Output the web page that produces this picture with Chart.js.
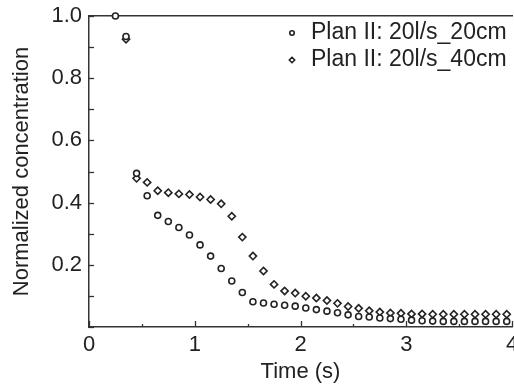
<!DOCTYPE html>
<html><head><meta charset="utf-8">
<script src="https://cdn.jsdelivr.net/npm/chart.js@4/dist/chart.umd.min.js"></script>
<style>html,body{margin:0;padding:0;background:#fff;overflow:hidden}canvas{display:block}</style>
</head><body>
<canvas id="c" width="514" height="388"></canvas>
<script>
const times = [0.25,0.35,0.45,0.55,0.65,0.75,0.85,0.95,
  1.05,1.15,1.25,1.35,1.45,1.55,1.65,1.75,1.85,1.95,
  2.05,2.15,2.25,2.35,2.45,2.55,2.65,2.75,2.85,2.95,
  3.05,3.15,3.25,3.35,3.45,3.55,3.65,3.75,3.85,3.95];
const plan20cm = [1.0,0.934,0.494,0.422,0.359,0.339,0.320,0.296,
  0.264,0.228,0.188,0.148,0.111,0.081,0.077,0.073,0.070,0.067,
  0.061,0.056,0.051,0.046,0.039,0.034,0.032,0.029,0.027,0.025,
  0.022,0.020,0.019,0.018,0.018,0.018,0.018,0.018,0.018,0.018];
const plan40cm = [null,0.925,0.478,0.465,0.438,0.432,0.428,0.426,
  0.418,0.410,0.396,0.356,0.289,0.228,0.180,0.137,0.116,0.109,
  0.099,0.093,0.085,0.076,0.066,0.060,0.052,0.048,0.045,0.044,
  0.042,0.042,0.041,0.041,0.041,0.041,0.041,0.041,0.041,0.041];
const seriesLabels = ['Plan II: 20l/s_20cm', 'Plan II: 20l/s_40cm'];
const xTickLabels = ['0','1','2','3','4'];
const yTickLabels = ['0.2','0.4','0.6','0.8','1.0'];
const xTitle = 'Time (s)';
const yTitle = 'Normalized concentration';

const FONT = "'Liberation Sans', Arial, Helvetica, sans-serif";
const INK = '#222';
const AXIS = '#333';

function pick(labels, v) {
  const m = labels.find(l => Math.abs(parseFloat(l) - v) < 1e-6);
  return m === undefined ? '' : m;
}

const inwardTicks = {
  id: 'inwardTicks',
  afterDatasetsDraw(chart) {
    const {ctx, chartArea, scales} = chart;
    ctx.save();
    ctx.strokeStyle = AXIS;
    ctx.lineWidth = 1.3;
    scales.y.ticks.forEach(t => {
      const py = Math.round(scales.y.getPixelForValue(t.value)) + 0.5;
      ctx.beginPath();
      ctx.moveTo(chartArea.left, py);
      ctx.lineTo(chartArea.left + 5, py);
      ctx.stroke();
    });
    scales.x.ticks.forEach(t => {
      const px = Math.round(scales.x.getPixelForValue(t.value)) + 0.5;
      const len = Number.isInteger(t.value) ? 6 : 3;
      ctx.beginPath();
      ctx.moveTo(px, chartArea.bottom);
      ctx.lineTo(px, chartArea.bottom - len);
      ctx.stroke();
    });
    ctx.restore();
  }
};

const insideLegend = {
  id: 'insideLegend',
  afterDraw(chart, args, opts) {
    const {ctx} = chart;
    ctx.save();
    chart.data.datasets.forEach((ds, i) => {
      const cy = opts.top + i * opts.rowGap;
      ctx.fillStyle = ds.backgroundColor;
      ctx.strokeStyle = ds.borderColor;
      ctx.lineWidth = ds.borderWidth;
      Chart.helpers.drawPoint(ctx, {pointStyle: ds.pointStyle, radius: ds.pointRadius * 0.75, borderWidth: ds.borderWidth}, opts.markerX, cy);
      ctx.fillStyle = INK;
      ctx.font = opts.font;
      ctx.textBaseline = 'middle';
      ctx.textAlign = 'left';
      ctx.fillText(ds.label, opts.textX, cy);
    });
    ctx.restore();
  }
};

function makeSeries(values) {
  return times.map((t, i) => ({x: t, y: values[i]}));
}

new Chart(document.getElementById('c'), {
  type: 'scatter',
  data: {
    datasets: [
      {label: seriesLabels[0], data: makeSeries(plan20cm), pointStyle: 'circle', pointRadius: 3, order: 0,
       borderWidth: 1.6, borderColor: INK, backgroundColor: '#fff', showLine: false, clip: false},
      {label: seriesLabels[1], data: makeSeries(plan40cm), pointStyle: 'rectRot', pointRadius: 3.6, order: 1,
       borderWidth: 1.6, borderColor: INK, backgroundColor: '#fff', showLine: false, clip: false}
    ]
  },
  options: {
    responsive: false,
    animation: false,
    devicePixelRatio: 1,
    layout: {autoPadding: false, padding: {left: 0, right: 2, top: 0, bottom: 0}},
    plugins: {
      legend: {display: false},
      tooltip: {enabled: false},
      insideLegend: {markerX: 292, textX: 311, top: 33, rowGap: 27, font: "23px " + FONT}
    },
    scales: {
      x: {
        type: 'linear', position: 'bottom', min: 0, max: 4,
        grid: {display: false, drawTicks: false},
        border: {display: true, color: AXIS, width: 1.5},
        ticks: {stepSize: 0.5, autoSkip: false, maxRotation: 0, padding: 5, color: INK,
                font: {family: FONT, size: 22},
                callback: v => pick(xTickLabels, v)},
        title: {display: true, text: xTitle, color: INK, font: {family: FONT, size: 22},
                padding: {top: 0, bottom: 3}},
        afterFit(s) { s.height = 61; s.paddingRight = 0; s.paddingLeft = 0; }
      },
      x2: {
        type: 'linear', position: 'top', min: 0, max: 4, display: true,
        grid: {display: false, drawTicks: false},
        border: {display: true, color: AXIS, width: 1.5},
        ticks: {display: false},
        afterFit(s) { s.height = 16; }
      },
      y: {
        type: 'linear', position: 'left', min: 0, max: 1,
        grid: {display: false, drawTicks: false},
        border: {display: true, color: AXIS, width: 1.5},
        ticks: {stepSize: 0.1, autoSkip: false, padding: 7, color: INK,
                font: {family: FONT, size: 22},
                callback: v => pick(yTickLabels, v)},
        title: {display: true, text: yTitle, color: INK, font: {family: FONT, size: 22},
                padding: {top: 9, bottom: 0}},
        afterFit(s) { s.width = 89; s.paddingTop = 0; s.paddingBottom = 0; }
      }
    }
  },
  plugins: [inwardTicks, insideLegend]
});
</script>
</body></html>
